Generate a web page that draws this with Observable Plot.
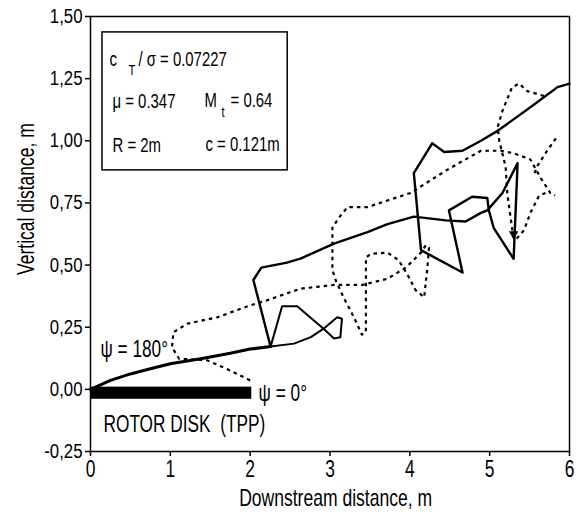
<!DOCTYPE html>
<html>
<head>
<meta charset="utf-8">
<script src="https://cdn.jsdelivr.net/npm/d3@7"></script>
<script src="https://cdn.jsdelivr.net/npm/@observablehq/plot@0.6"></script>
<style>
  html, body { margin: 0; padding: 0; background: #fff; }
  #chart svg { display: block; }
</style>
</head>
<body>
<div id="chart"></div>
<script>
// ---- tick values ----
const xTicks = [0, 1, 2, 3, 4, 5, 6];
const yTicks = [-0.25, 0, 0.25, 0.5, 0.75, 1.0, 1.25, 1.5];

// ---- solid trajectories [x (m), z (m)] ----
const solidMain = [[0,0],[0.25,0.036],[0.5,0.062],[0.75,0.083],[1.0,0.103],[1.38,0.123],[1.75,0.145],[2.0,0.162],[2.256,0.172]];
const solidLoop = [[2.256,0.172],[2.55,0.184],[2.76,0.21],[2.92,0.244],[3.09,0.29],[3.15,0.284],[3.13,0.21],[3.05,0.205],[2.92,0.244],[2.75,0.29],[2.59,0.334],[2.40,0.334],[2.256,0.172]];
const solidUpper = [[2.256,0.172],[2.04,0.44],[2.14,0.49],[2.46,0.51],[2.63,0.526],[3.05,0.586],[3.47,0.633],[3.72,0.665],[4.05,0.695],[4.45,0.68],[4.70,0.675],[4.89,0.71],[4.97,0.72],[5.16,0.79],[5.35,0.91],[5.30,0.525],[5.05,0.65],[4.99,0.72],[4.97,0.77],[4.78,0.775],[4.49,0.72],[4.66,0.47],[4.14,0.56],[4.05,0.87],[4.28,0.99],[4.43,0.955],[4.66,0.96],[4.89,1.0],[5.10,1.04],[5.51,1.135],[5.85,1.216],[6.0,1.23]];

// ---- dashed trajectories ----
const dashA = [[2.0,0.036],[1.75,0.076],[1.46,0.117],[1.11,0.123],[1.02,0.17],[1.04,0.23],[1.21,0.264],[1.59,0.29],[2.0,0.338],[2.21,0.358],[2.63,0.405],[3.05,0.42],[3.40,0.42],[3.72,0.445],[3.95,0.49],[4.14,0.55],[4.20,0.58],[4.24,0.57],[4.22,0.49],[4.18,0.37],[4.07,0.40],[3.99,0.45],[3.86,0.52],[3.72,0.55],[3.51,0.545],[3.45,0.53],[3.45,0.23],[3.40,0.22],[3.30,0.29],[3.17,0.37],[3.07,0.44],[3.03,0.48],[3.03,0.65],[3.11,0.69],[3.22,0.733],[3.47,0.733],[3.72,0.76],[4.01,0.79],[4.45,0.88],[4.89,0.96],[5.14,0.96],[5.30,0.95],[5.51,0.925],[5.64,0.85],[5.76,0.79],[5.82,0.78]];
const dashB = [[5.68,1.18],[5.47,1.20],[5.37,1.23],[5.28,1.215],[5.16,1.12],[5.10,1.055],[5.12,1.00],[5.20,0.895],[5.22,0.79],[5.28,0.65],[5.30,0.61]];
const dashC = [[5.83,1.01],[5.72,0.96],[5.60,0.90],[5.55,0.86]];
const dashD = [[5.70,0.79],[5.62,0.78],[5.51,0.71],[5.43,0.64],[5.32,0.60]];
const arrowTip = [[5.30,0.625]];

// ---- rotor disk ----
const rotorDisk = [{x1: 0, x2: 2.02, y1: -0.04, y2: 0.009}];

// ---- legend box and texts ----
const legendBox = [{x1: 0.15, x2: 2.47, y1: 0.881, y2: 1.436}];
const legendTexts = [
  {t: "c", x: 0.238, y: 1.302, s: 21},
  {t: "T", x: 0.476, y: 1.263, s: 15},
  {t: "/ σ = 0.07227", x: 0.60, y: 1.302, s: 21},
  {t: "μ = 0.347", x: 0.276, y: 1.132, s: 21},
  {t: "M", x: 1.429, y: 1.134, s: 21},
  {t: "t", x: 1.64, y: 1.094, s: 15},
  {t: "= 0.64", x: 1.754, y: 1.134, s: 21},
  {t: "R = 2m", x: 0.276, y: 0.955, s: 21},
  {t: "c = 0.121m", x: 1.44, y: 0.958, s: 21}
];
const annotations = [
  {t: "ψ = 180°", x: 0.125, y: 0.129},
  {t: "ψ = 0°", x: 2.105, y: -0.048},
  {t: "ROTOR DISK  (TPP)", x: 0.163, y: -0.173}
];
const xTitle = "Downstream distance, m";
const yTitle = "Vertical distance, m";

const FONT = "'Liberation Sans', Arial, sans-serif";
// horizontal squeeze per font size, to imitate the narrow typeface of the original
const CONDENSE = {"20.5": 0.82, "21": 0.71, "15": 0.75, "23": 0.75, "24": 0.73, "23.5": 0.74};
const fmtY = d => d.toFixed(2).replace(".", ",");
const pts = a => a.map(([x, y]) => ({x, y}));
const dashStyle = {x: "x", y: "y", stroke: "black", strokeWidth: 2.2, strokeDasharray: "3.5,4", strokeLinecap: "butt"};

const chart = Plot.plot({
  width: 578,
  height: 514,
  marginLeft: 90,
  marginRight: 9,
  marginTop: 16,
  marginBottom: 63,
  style: {fontFamily: FONT, background: "white", color: "black", overflow: "visible"},
  x: {domain: [0, 6]},
  y: {domain: [-0.25, 1.5]},
  marks: [
    Plot.axisX({ticks: xTicks, tickFormat: d => String(d), tickSize: 5, tickPadding: 4, fontSize: 23.5, label: null, strokeWidth: 1.5}),
    Plot.axisY({ticks: yTicks, tickFormat: fmtY, tickSize: 5, tickPadding: 3, fontSize: 20.5, label: null, strokeWidth: 1.5}),
    Plot.rect(rotorDisk, {x1: "x1", x2: "x2", y1: "y1", y2: "y2", fill: "black"}),
    Plot.line(pts(solidMain), {x: "x", y: "y", stroke: "black", strokeWidth: 3, curve: "linear"}),
    Plot.line(pts(solidLoop), {x: "x", y: "y", stroke: "black", strokeWidth: 2, curve: "linear"}),
    Plot.line(pts(solidUpper), {x: "x", y: "y", stroke: "black", strokeWidth: 2.4, curve: "linear"}),
    Plot.line(pts(dashA), dashStyle),
    Plot.line(pts(dashB), dashStyle),
    Plot.line(pts(dashC), dashStyle),
    Plot.line(pts(dashD), dashStyle),
    Plot.dot(pts(arrowTip), {x: "x", y: "y", symbol: "triangle", r: 3.5, fill: "black", rotate: 180}),
    Plot.rect(legendBox, {x1: "x1", x2: "x2", y1: "y1", y2: "y2", fill: "white", stroke: "black", strokeWidth: 1.5}),
    Plot.text(legendTexts, {x: "x", y: "y", text: "t", fontSize: "s", textAnchor: "start", lineAnchor: "bottom", fill: "black"}),
    Plot.text(annotations, {x: "x", y: "y", text: "t", fontSize: 23, textAnchor: "start", lineAnchor: "bottom", fill: "black"}),
    Plot.text([xTitle], {x: 3.07, frameAnchor: "bottom", dy: 54, text: d => d, fontSize: 24, lineAnchor: "bottom", fill: "black"}),
    Plot.text([yTitle], {y: 0.46, frameAnchor: "left", dx: -64, text: d => d, fontSize: 24, rotate: -90, fill: "black"}),
    Plot.frame({stroke: "black", strokeWidth: 1.5})
  ]
});
document.getElementById("chart").appendChild(chart);
// Narrow the glyphs (Arial-Narrow-like look) since no narrow font is installed
chart.querySelectorAll("text").forEach(el => {
  const fs = String(parseFloat(getComputedStyle(el).fontSize));
  const k = CONDENSE[fs] || 0.8;
  const w = el.getComputedTextLength();
  if (w > 0) {
    el.setAttribute("textLength", (w * k).toFixed(1));
    el.setAttribute("lengthAdjust", "spacingAndGlyphs");
  }
});
</script>
</body>
</html>
